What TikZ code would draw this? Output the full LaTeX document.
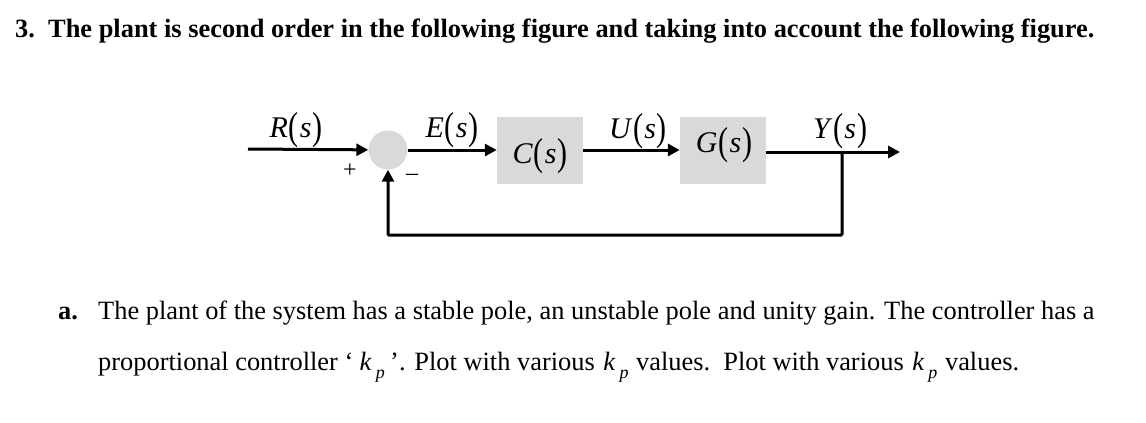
\documentclass[tikz,border=0pt]{standalone}
\usepackage{fontspec}
\setmainfont{Liberation Serif}
\usetikzlibrary{arrows.meta,positioning}
\definecolor{boxgray}{RGB}{217,217,217}
\newcommand{\tallpar}[1]{\raisebox{-2pt}{\scalebox{1}[1.3]{#1}}}
\newcommand{\sigof}[1]{\textit{#1}\kern1pt\tallpar{(}\kern1pt\textit{s}\kern1pt\tallpar{)}}
\newcommand{\kp}{\kern2pt\textit{k}\kern4pt\raisebox{-8pt}{\fontsize{18}{18}\selectfont\textit{p}}\kern1pt}

\begin{document}
\begin{tikzpicture}[x=1pt, y=-1pt,
    block/.style={fill=boxgray, minimum width=86pt, minimum height=67pt, inner sep=0pt},
    sig/.style={font=\fontsize{30}{34}\selectfont, inner sep=0pt},
    txt/.style={font=\fontsize{26.4}{30}\selectfont, inner sep=0pt, anchor=base west},
    link/.style={line width=3pt, -{Triangle[length=12pt,width=12pt]}}
  ]
    \useasboundingbox (0,0) rectangle (1146,423);
    % question text
    \node[txt, font=\fontsize{26.4}{30}\selectfont\bfseries] (title) at (15,37) {3.\ \ The plant is second order in the following figure and taking into account the following figure.};
    \node[txt, font=\fontsize{26.4}{30}\selectfont\bfseries] (item) at (58,319) {a.};
    \node[txt] (line1) at (98,319) {The plant of the system has a stable pole, an unstable pole and unity gain. The controller has a};
    \node[txt] (line2) at (98,370) {proportional controller ‘\,\kp\,’. Plot with various \kp\ values.\ \ Plot with various \kp\ values.};
    % loop
    \node[circle, fill=boxgray, minimum size=39pt, inner sep=0pt] (sum) at (388,150) {};
    \node[block] (ctrl) at (540,150) {};
    \node[block] (plant) at (723,150) {};
    \coordinate (in) at (248,149);
    \coordinate (out) at (900,152);
    \coordinate (branch) at (842,152);
    \coordinate (fb) at (388,235);
    \draw[link] (in) -- (sum);
    \draw[link] (sum) -- (ctrl);
    \draw[link] (ctrl) -- (plant);
    \draw[link] (plant.east |- out) -- (out);
    \draw[link, rounded corners=1pt] (branch) -- (branch |- fb) -- (fb) -- (sum);
    % labels
    \node[sig] (rlab) at (296,130) {\sigof{R}};
    \node[sig] (elab) at (452,130) {\sigof{E}};
    \node[sig] (ulab) at (638,131) {\sigof{U}};
    \node[sig] (ylab) at (840,131) {\sigof{Y}};
    \node[sig] (clab) at (540,156) {\sigof{C}};
    \node[sig] (glab) at (724,145) {\sigof{G}};
    \node[sig, font=\fontsize{24}{26}\selectfont] (plus) at (350,171) {+};
    \node[sig, font=\fontsize{24}{26}\selectfont] (minus) at (412,177) {\textendash};
\end{tikzpicture}
\end{document}
